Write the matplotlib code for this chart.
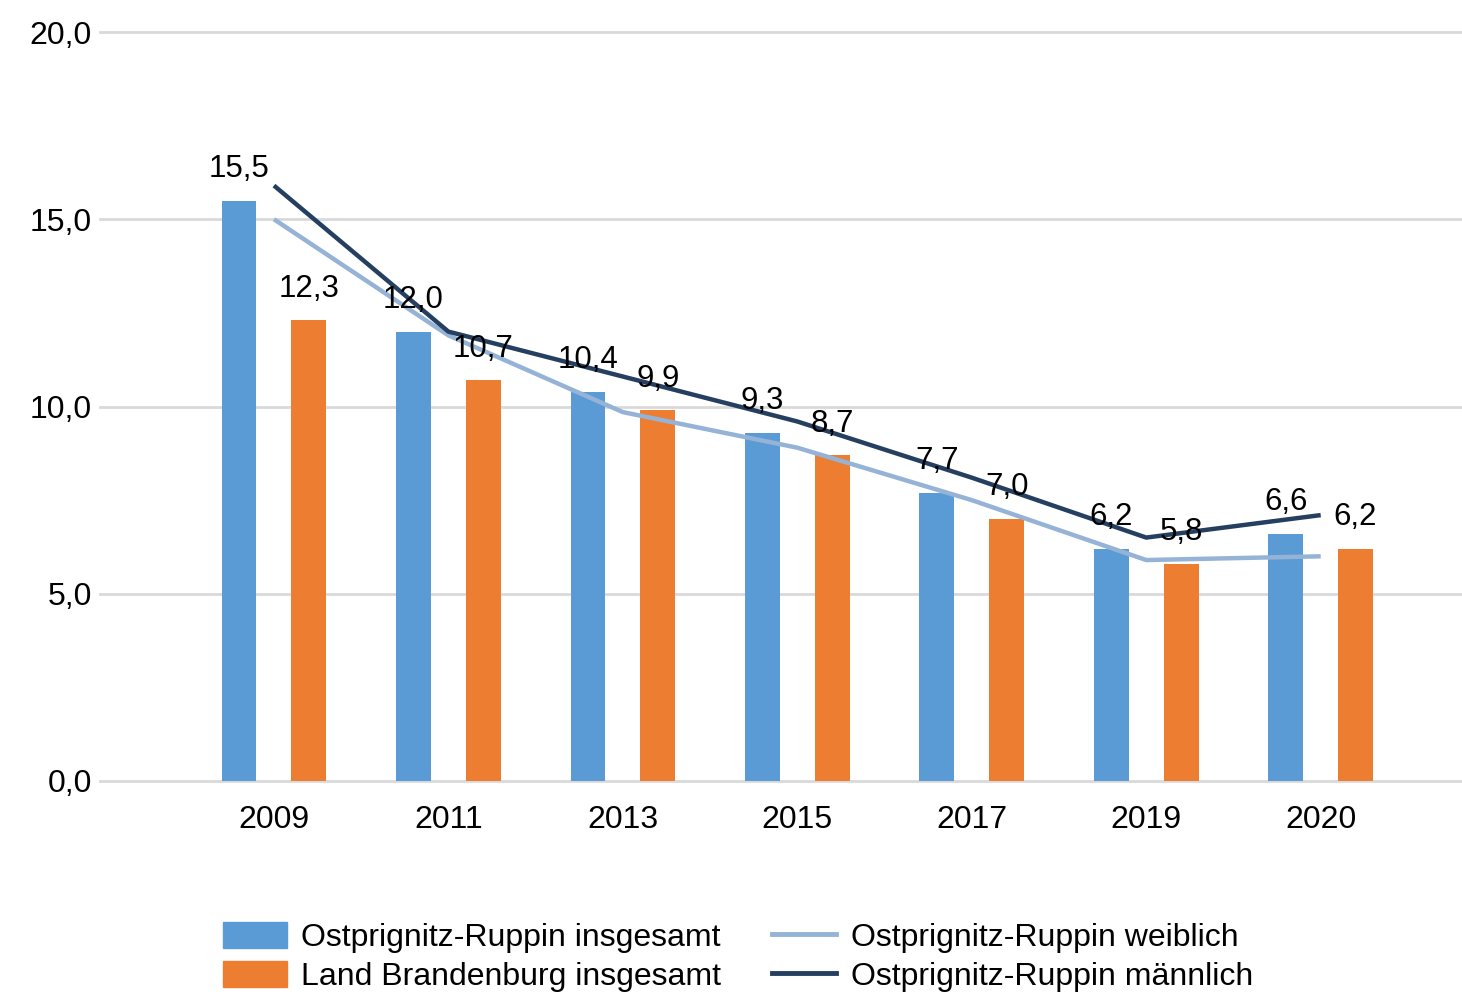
import matplotlib
matplotlib.use("Agg")
import matplotlib.pyplot as plt
import numpy as np
from matplotlib.patches import Patch
from matplotlib.lines import Line2D

years = ["2009", "2011", "2013", "2015", "2017", "2019", "2020"]
opr_total = [15.5, 12.0, 10.4, 9.3, 7.7, 6.2, 6.6]
bb_total = [12.3, 10.7, 9.9, 8.7, 7.0, 5.8, 6.2]
opr_female = [15.0, 11.9, 9.85, 8.9, 7.5, 5.9, 6.0]
opr_male = [15.9, 12.0, 10.8, 9.6, 8.1, 6.5, 7.1]
yticks = [0, 5, 10, 15, 20]

plt.rcParams['font.family'] = ['Liberation Sans', 'DejaVu Sans']

c_blue = "#5B9BD5"
c_orange = "#ED7D31"
c_light = "#95B3D7"
c_dark = "#243F60"

fig = plt.figure(figsize=(14.62, 9.98), dpi=100)
ax = fig.add_axes([100/1462, 1-781/998, 1-100/1462, (781-32)/998])

x = np.arange(len(years))
w = 0.2
ax.bar(x - 0.2, opr_total, width=w, color=c_blue, zorder=2)
ax.bar(x + 0.2, bb_total, width=w, color=c_orange, zorder=2)
ax.plot(x, opr_female, color=c_light, lw=3.2, zorder=3, solid_capstyle='butt')
ax.plot(x, opr_male, color=c_dark, lw=3.2, zorder=4, solid_capstyle='butt')

def fmt(v):
    return f"{v:.1f}".replace(".", ",")

for xi, v in zip(x - 0.2, opr_total):
    ax.annotate(fmt(v), (xi, v), xytext=(0, 12), textcoords='offset points',
                ha='center', va='bottom', fontsize=22.5, color='black', zorder=5)
for xi, v in zip(x + 0.2, bb_total):
    ax.annotate(fmt(v), (xi, v), xytext=(0, 12), textcoords='offset points',
                ha='center', va='bottom', fontsize=22.5, color='black', zorder=5)

ax.set_xlim(-0.997, 6.81)
ax.set_ylim(0, 20)
ax.set_yticks(yticks)
ax.set_yticklabels([fmt(t) for t in yticks], fontsize=23)
ax.set_xticks(x)
ax.set_xticklabels(years, fontsize=23)
ax.tick_params(axis='both', length=0)
ax.tick_params(axis='y', pad=6)
ax.tick_params(axis='x', pad=17)
ax.grid(axis='y', color='#D9D9D9', lw=2, zorder=0)
for gl in ax.get_ygridlines():
    gl.set_clip_on(False)
for s in ax.spines.values():
    s.set_visible(False)

handles = [Patch(color=c_blue), Patch(color=c_orange),
           Line2D([], [], color=c_light, lw=3.5), Line2D([], [], color=c_dark, lw=3.5)]
labels = ["Ostprignitz-Ruppin insgesamt", "Land Brandenburg insgesamt",
          "Ostprignitz-Ruppin weiblich", "Ostprignitz-Ruppin männlich"]
fig.legend(handles, labels, ncol=2, loc='center', bbox_to_anchor=(738/1462, 1-957/998),
           frameon=False, fontsize=23, handlelength=2.0, handleheight=0.85,
           handletextpad=0.45, columnspacing=1.6, labelspacing=0.26,
           borderpad=0, borderaxespad=0)

fig.savefig("out.png", dpi=100)
